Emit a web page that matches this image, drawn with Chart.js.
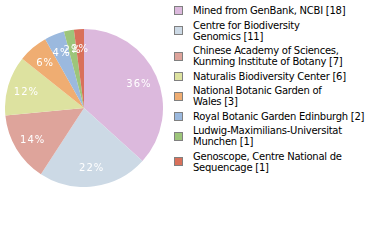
<!DOCTYPE html>
<html>
<head>
<meta charset="utf-8">
<script src="https://cdn.jsdelivr.net/npm/chart.js@4"></script>
<style>
  body { margin: 0; background: #fff; width: 380px; height: 240px; overflow: hidden; position: relative; }
  #pieBox { position: absolute; left: 4.5px; top: 29px; width: 158px; height: 158px; }
  #legend { position: absolute; left: 174px; top: 5px; width: 206px; font-family: "DejaVu Sans", Verdana, sans-serif; font-size: 10px; line-height: 11px; letter-spacing: -0.25px; color: #000; white-space: nowrap; }
  .item { display: flex; align-items: center; margin-bottom: 3.5px; }
  .box { width: 7px; height: 7px; border: 1px solid #808080; flex: none; margin-right: 10px; }
</style>
</head>
<body>
<div id="pieBox"><canvas id="pie"></canvas></div>
<div id="legend"></div>
<script>
const labels = [
  'Mined from GenBank, NCBI',
  'Centre for Biodiversity Genomics',
  'Chinese Academy of Sciences, Kunming Institute of Botany',
  'Naturalis Biodiversity Center',
  'National Botanic Garden of Wales',
  'Royal Botanic Garden Edinburgh',
  'Ludwig-Maximilians-Universitat Munchen',
  'Genoscope, Centre National de Sequencage'
];
// lines as shown in the legend
const legendLines = [
  ['Mined from GenBank, NCBI [18]'],
  ['Centre for Biodiversity', 'Genomics [11]'],
  ['Chinese Academy of Sciences,', 'Kunming Institute of Botany [7]'],
  ['Naturalis Biodiversity Center [6]'],
  ['National Botanic Garden of', 'Wales [3]'],
  ['Royal Botanic Garden Edinburgh [2]'],
  ['Ludwig-Maximilians-Universitat', 'Munchen [1]'],
  ['Genoscope, Centre National de', 'Sequencage [1]']
];
const counts = [18, 11, 7, 6, 3, 2, 1, 1];
const colors = ['#dcb9dd', '#ccd9e5', '#dea49b', '#dde2a0', '#efad72', '#9bb9de', '#9dc57a', '#d9705a'];

const total = counts.reduce((a, b) => a + b, 0);

const legend = document.getElementById('legend');
legendLines.forEach((lines, i) => {
  const item = document.createElement('div');
  item.className = 'item';
  const box = document.createElement('div');
  box.className = 'box';
  box.style.background = colors[i];
  const txt = document.createElement('div');
  txt.innerHTML = lines.join('<br>');
  item.appendChild(box);
  item.appendChild(txt);
  legend.appendChild(item);
});

const pctLabels = {
  id: 'pctLabels',
  afterDatasetsDraw(chart) {
    const ctx = chart.ctx;
    const meta = chart.getDatasetMeta(0);
    ctx.save();
    ctx.fillStyle = '#fff';
    ctx.font = '10px "DejaVu Sans", Verdana, sans-serif';
    ctx.letterSpacing = '1px';
    ctx.textAlign = 'center';
    ctx.textBaseline = 'middle';
    meta.data.forEach((arc, i) => {
      const mid = (arc.startAngle + arc.endAngle) / 2;
      const r = arc.outerRadius * 0.76;
      const x = arc.x + Math.cos(mid) * r;
      const y = arc.y + Math.sin(mid) * r + 1;
      ctx.fillText(Math.floor(counts[i] / total * 100) + '%', x, y);
    });
    ctx.restore();
  }
};

new Chart(document.getElementById('pie'), {
  type: 'pie',
  data: {
    labels: labels,
    datasets: [{
      data: counts,
      backgroundColor: colors,
      borderWidth: 0
    }]
  },
  options: {
    responsive: true,
    maintainAspectRatio: false,
    animation: false,
    layout: { padding: 0 },
    plugins: {
      legend: { display: false },
      tooltip: { enabled: false }
    }
  },
  plugins: [pctLabels]
});
</script>
</body>
</html>
